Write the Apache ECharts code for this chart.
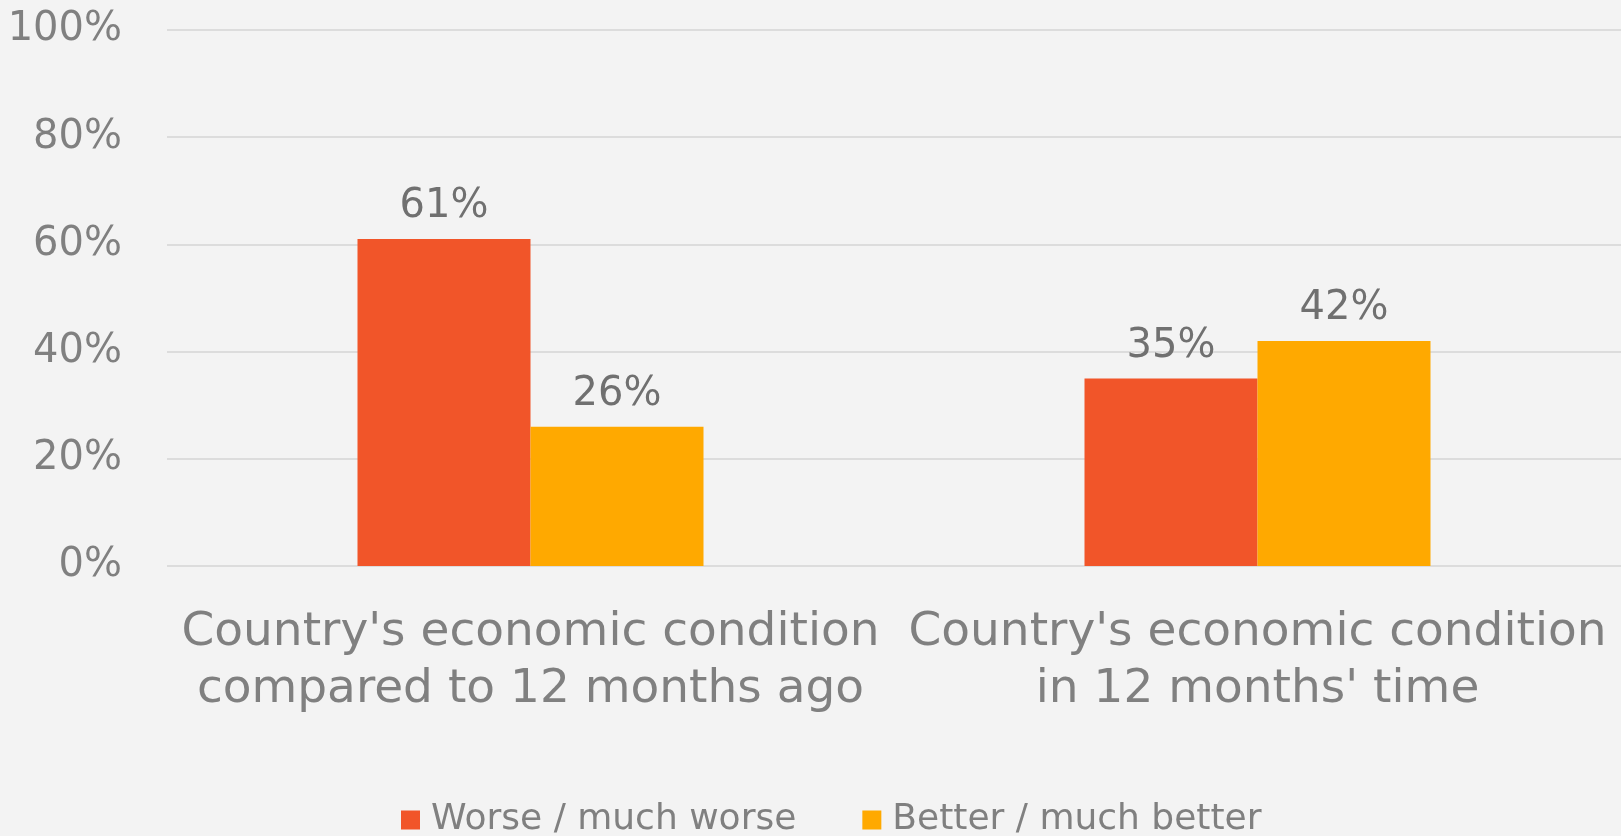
<!DOCTYPE html>
<html>
<head>
<meta charset="utf-8">
<script src="https://cdn.jsdelivr.net/npm/echarts@6/dist/echarts.min.js"></script>
<style>
html,body{margin:0;padding:0;background:#f3f3f3;}
#c{width:1621px;height:836px;}
</style>
</head>
<body>
<div id="c"></div>
<script>
const categories = ["Country's economic condition\ncompared to 12 months ago", "Country's economic condition\nin 12 months' time"];
const seriesNames = ["Worse / much worse", "Better / much better"];
const worse = [61, 35];
const better = [26, 42];
const yTicks = [0, 20, 40, 60, 80, 100];

const FONT = "'DejaVu Sans', sans-serif";
const chart = echarts.init(document.getElementById('c'), null, {renderer: 'canvas'});
chart.setOption({
  backgroundColor: '#f3f3f3',
  animation: false,
  textStyle: {fontFamily: FONT},
  grid: {left: 167, right: 0, top: 30, bottom: 270, containLabel: false},
  legend: {
    data: seriesNames,
    top: 797,
    left: 396,
    itemWidth: 19, itemHeight: 19, itemGap: 66,
    icon: 'rect',
    textStyle: {fontFamily: FONT, fontSize: 36, color: '#808080', padding: [0, 0, 0, 6]}
  },
  xAxis: {
    type: 'category',
    data: categories,
    axisLine: {show: false},
    axisTick: {show: false},
    axisLabel: {fontFamily: FONT, fontSize: 47, color: '#808080', margin: 38, lineHeight: 57, interval: 0}
  },
  yAxis: {
    type: 'value',
    min: 0, max: 100, interval: 20,
    axisLine: {show: false},
    axisTick: {show: false},
    splitLine: {lineStyle: {color: '#dcdcdc', width: 2}},
    axisLabel: {fontFamily: FONT, fontSize: 40, color: '#808080', margin: 45,
      formatter: v => yTicks.includes(v) ? v + '%' : ''}
  },
  series: [
    {name: seriesNames[0], type: 'bar', data: worse, barWidth: 173, barGap: '0%',
     itemStyle: {color: '#F15529'},
     label: {show: true, position: 'top', distance: 12, formatter: '{c}%', fontFamily: FONT, fontSize: 40, color: '#707070'}},
    {name: seriesNames[1], type: 'bar', data: better, barWidth: 173, barGap: '0%',
     itemStyle: {color: '#FFA900'},
     label: {show: true, position: 'top', distance: 12, formatter: '{c}%', fontFamily: FONT, fontSize: 40, color: '#707070'}}
  ]
});
</script>
</body>
</html>
